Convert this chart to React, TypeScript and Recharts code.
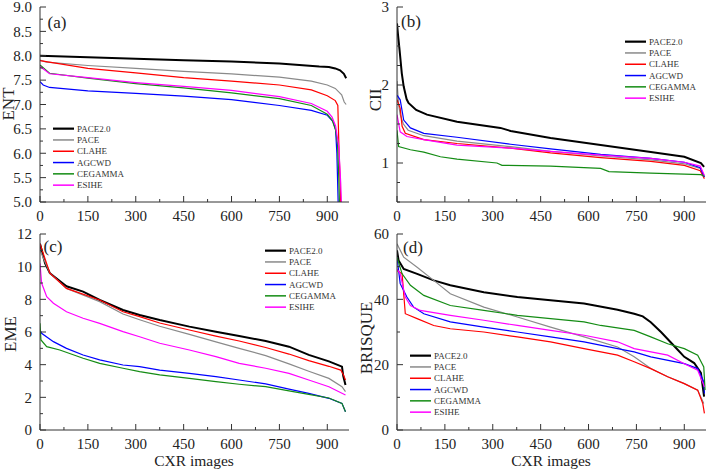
import React from 'react';
import { LineChart, Line, XAxis, YAxis, Legend } from 'recharts';

type Pt = [number, number];

const FONT = "'Liberation Serif', 'Times New Roman', serif";

const methods = ['PACE2.0', 'PACE', 'CLAHE', 'AGCWD', 'CEGAMMA', 'ESIHE'];
const methodColors = ['#000000', '#8a8a8a', '#ff0000', '#0000ff', '#148c14', '#ff00ff'];
const methodWidths = [2, 1.2, 1.2, 1.2, 1.2, 1.2];

const xMajorTicks = [0, 150, 300, 450, 600, 750, 900];
const xAllTicks = [0, 75, 150, 225, 300, 375, 450, 525, 600, 675, 750, 825, 900];
const xDomain: [number, number] = [0, 968];

// (a) ENT  -- [image index, value]
const entPace2: Pt[] = [[0, 8.0], [150, 7.97], [300, 7.94], [450, 7.91], [600, 7.88], [750, 7.84], [875, 7.78], [905, 7.77], [925, 7.74], [940, 7.7], [952, 7.63], [959, 7.54]];
const entPace: Pt[] = [[0, 7.91], [20, 7.87], [150, 7.8], [300, 7.74], [450, 7.68], [600, 7.63], [750, 7.56], [850, 7.48], [900, 7.4], [925, 7.33], [945, 7.2], [953, 7.05], [959, 7.0]];
const entClahe: Pt[] = [[0, 7.9], [150, 7.74], [300, 7.65], [450, 7.55], [600, 7.48], [750, 7.4], [850, 7.3], [900, 7.18], [925, 7.08], [933, 6.98], [937, 6.0], [940, 5.5], [944, 4.5]];
const entAgcwd: Pt[] = [[0, 7.47], [10, 7.4], [30, 7.35], [150, 7.28], [300, 7.23], [450, 7.17], [600, 7.1], [750, 6.98], [850, 6.88], [900, 6.78], [918, 6.65], [926, 6.48], [930, 6.0], [936, 4.5]];
const entCegamma: Pt[] = [[0, 7.81], [30, 7.64], [150, 7.54], [300, 7.43], [450, 7.34], [600, 7.24], [750, 7.12], [850, 6.98], [900, 6.8], [915, 6.68], [926, 6.48], [932, 6.2], [936, 5.5], [940, 4.5]];
const entEsihe: Pt[] = [[0, 7.78], [30, 7.63], [150, 7.55], [300, 7.45], [450, 7.37], [600, 7.29], [750, 7.16], [850, 7.02], [900, 6.86], [915, 6.74], [926, 6.56], [936, 6.13], [942, 5.4], [947, 4.5]];
const entTicks = [5, 5.25, 5.5, 5.75, 6, 6.25, 6.5, 6.75, 7, 7.25, 7.5, 7.75, 8, 8.25, 8.5, 8.75, 9];
const entLabels = [5, 5.5, 6, 6.5, 7, 7.5, 8, 8.5, 9];

// (b) CII
const ciiPace2: Pt[] = [[0, 2.79], [3, 2.65], [8, 2.45], [15, 2.15], [21, 1.98], [30, 1.82], [36, 1.77], [60, 1.68], [94, 1.62], [188, 1.53], [324, 1.45], [356, 1.41], [481, 1.32], [638, 1.23], [795, 1.14], [900, 1.08], [952, 1.0], [962, 0.95]];
const ciiPace: Pt[] = [[0, 2.05], [5, 1.75], [10, 1.62], [20, 1.5], [35, 1.42], [84, 1.35], [188, 1.28], [356, 1.21], [481, 1.15], [638, 1.09], [795, 1.04], [900, 0.99], [950, 0.93], [963, 0.82]];
const ciiClahe: Pt[] = [[0, 1.81], [10, 1.7], [16, 1.47], [26, 1.38], [84, 1.3], [188, 1.25], [356, 1.19], [481, 1.13], [638, 1.07], [795, 1.02], [900, 0.97], [950, 0.9], [963, 0.8]];
const ciiAgcwd: Pt[] = [[0, 1.87], [10, 1.81], [21, 1.55], [42, 1.45], [84, 1.38], [188, 1.33], [356, 1.24], [481, 1.18], [638, 1.11], [795, 1.06], [900, 1.01], [950, 0.94], [963, 0.82]];
const ciiCegamma: Pt[] = [[0, 1.42], [5, 1.21], [42, 1.17], [84, 1.14], [136, 1.08], [188, 1.05], [313, 1.0], [329, 0.97], [481, 0.96], [638, 0.93], [664, 0.89], [795, 0.87], [952, 0.85], [963, 0.83]];
const ciiEsihe: Pt[] = [[0, 1.62], [10, 1.4], [31, 1.34], [84, 1.3], [188, 1.23], [356, 1.19], [481, 1.15], [638, 1.1], [795, 1.06], [900, 1.01], [950, 0.96], [963, 0.84]];
const ciiTicks = [0.5, 0.75, 1, 1.25, 1.5, 1.75, 2, 2.25, 2.5, 2.75, 3];
const ciiLabels = [1, 2, 3];

// (c) EME
const emePace2: Pt[] = [[0, 11.4], [16, 10.2], [31, 9.6], [83, 8.8], [135, 8.47], [187, 7.96], [260, 7.35], [312, 7.04], [375, 6.73], [468, 6.33], [551, 6.02], [624, 5.75], [707, 5.45], [780, 5.1], [842, 4.6], [905, 4.2], [946, 3.88], [950, 3.3], [957, 2.76]];
const emePace: Pt[] = [[0, 11.0], [31, 9.6], [83, 8.67], [187, 7.86], [260, 7.1], [312, 6.75], [375, 6.35], [468, 5.85], [551, 5.4], [624, 5.0], [707, 4.55], [780, 4.05], [842, 3.6], [905, 3.16], [946, 2.65], [957, 2.35]];
const emeClahe: Pt[] = [[0, 11.4], [31, 9.6], [83, 8.67], [187, 7.96], [260, 7.24], [312, 6.94], [375, 6.55], [468, 6.12], [551, 5.75], [624, 5.45], [707, 5.05], [780, 4.65], [842, 4.25], [905, 3.9], [942, 3.67], [950, 3.4], [957, 3.06]];
const emeAgcwd: Pt[] = [[0, 6.12], [5, 5.92], [42, 5.41], [83, 5.0], [135, 4.59], [187, 4.29], [260, 3.98], [312, 3.88], [375, 3.67], [468, 3.47], [551, 3.27], [624, 3.06], [707, 2.82], [780, 2.5], [842, 2.24], [905, 1.94], [946, 1.63], [957, 1.12]];
const emeCegamma: Pt[] = [[0, 6.53], [3, 5.51], [21, 5.1], [62, 4.9], [135, 4.39], [187, 4.08], [260, 3.78], [312, 3.57], [375, 3.37], [468, 3.16], [551, 2.96], [624, 2.8], [707, 2.65], [780, 2.4], [842, 2.18], [905, 1.96], [946, 1.63], [957, 1.12]];
const emeEsihe: Pt[] = [[0, 10.2], [5, 9.0], [21, 8.16], [42, 7.76], [83, 7.24], [135, 6.84], [187, 6.53], [260, 6.02], [312, 5.71], [375, 5.31], [468, 4.9], [551, 4.49], [624, 4.08], [707, 3.78], [780, 3.47], [842, 3.06], [905, 2.65], [957, 2.14]];
const emeTicks = [0, 1, 2, 3, 4, 5, 6, 7, 8, 9, 10, 11, 12];
const emeLabels = [0, 2, 4, 6, 8, 10, 12];

// (d) BRISQUE
const brqPace2: Pt[] = [[0, 55], [5, 51.9], [21, 49.3], [63, 47.8], [115, 45.8], [167, 44.3], [272, 42.2], [377, 40.7], [481, 39.7], [586, 38.7], [691, 36.8], [743, 35.6], [770, 34.8], [795, 33.0], [827, 30.0], [858, 26.8], [880, 24.5], [900, 22.4], [931, 20.5], [952, 17.5], [962, 10.2]];
const brqPace: Pt[] = [[0, 57], [21, 52.9], [63, 49.8], [115, 45.8], [167, 41.7], [272, 37.6], [377, 34.6], [481, 31.5], [586, 28.5], [691, 25.4], [743, 22.4], [795, 18.8], [848, 16.3], [900, 14.2], [942, 12.2], [961, 8.1]];
const brqClahe: Pt[] = [[0, 48.8], [16, 47.8], [26, 35.6], [63, 34.1], [115, 32.0], [167, 31.0], [272, 30.0], [377, 28.5], [481, 27.0], [586, 24.9], [691, 22.9], [743, 20.9], [795, 18.8], [848, 16.3], [900, 14.2], [942, 12.2], [958, 8.1], [963, 5.1]];
const brqAgcwd: Pt[] = [[0, 52.9], [10, 44.8], [31, 40.7], [52, 37.6], [84, 35.6], [167, 33.1], [272, 31.5], [377, 30.0], [481, 28.5], [586, 27.0], [691, 24.9], [743, 23.9], [795, 22.4], [900, 20.3], [942, 18.8], [961, 14.8], [963, 11.2]];
const brqCegamma: Pt[] = [[0, 52.9], [16, 47.8], [42, 44.3], [84, 41.2], [167, 38.1], [272, 36.6], [377, 35.1], [481, 34.1], [586, 33.1], [638, 32.0], [743, 30.5], [795, 28.5], [848, 26.4], [900, 24.9], [942, 22.9], [961, 19.3], [965, 12.2]];
const brqEsihe: Pt[] = [[0, 49.3], [10, 47.8], [26, 40.7], [42, 38.1], [73, 36.6], [167, 35.1], [272, 33.6], [377, 32.0], [481, 30.5], [586, 29.0], [691, 27.0], [743, 24.9], [848, 22.9], [900, 20.3], [942, 18.3], [963, 13.2]];
const brqTicks = [0, 10, 20, 30, 40, 50, 60];
const brqLabels = [0, 20, 40, 60];

type Side = 'bottom' | 'top' | 'left' | 'right';

const isIn = (list: number[], v: number) => list.some((m) => Math.abs(m - v) < 1e-9);

// ticks point into the plot; only the labelled ones are long and carry text
const makeTick = (side: Side, major: number[], fmt?: (v: number) => string) => (props: any) => {
  const { x, y, payload } = props;
  const v = payload.value as number;
  const big = isIn(major, v);
  const len = big ? 6 : 3;
  const stroke = '#333';
  if (side === 'bottom') {
    return (
      <g>
        <line x1={x} y1={y} x2={x} y2={y - len} stroke={stroke} strokeWidth={1} />
        {big && fmt && (
          <text x={x} y={y + 19} textAnchor="middle" fontSize={15} fontFamily={FONT} fill="#222">{fmt(v)}</text>
        )}
      </g>
    );
  }
  if (side === 'top') {
    return <line x1={x} y1={y} x2={x} y2={y + len} stroke={stroke} strokeWidth={1} />;
  }
  if (side === 'left') {
    return (
      <g>
        <line x1={x} y1={y} x2={x + len} y2={y} stroke={stroke} strokeWidth={1} />
        {big && fmt && (
          <text x={x - 8} y={y} dy="0.35em" textAnchor="end" fontSize={15} fontFamily={FONT} fill="#222">{fmt(v)}</text>
        )}
      </g>
    );
  }
  return <line x1={x} y1={y} x2={x - len} y2={y} stroke={stroke} strokeWidth={1} />;
};

const ROW = 11.3;

const renderLegend = (props: any) => {
  const payload = [...(props.payload || [])].sort(
    (a: any, b: any) => methods.indexOf(a.value) - methods.indexOf(b.value)
  );
  return (
    <svg width={80} height={ROW * payload.length + 2} style={{ display: 'block', overflow: 'visible' }}>
      {payload.map((entry: any, i: number) => {
        const cy = ROW / 2 + i * ROW + 1;
        return (
          <g key={entry.value}>
            <line
              x1={0}
              x2={21}
              y1={cy}
              y2={cy}
              stroke={entry.color}
              strokeWidth={entry.value === 'PACE2.0' ? 2.2 : 1.5}
            />
            <text x={24} y={cy} dy="0.35em" fontSize={9} fontFamily={FONT} fill="#333">
              {entry.value}
            </text>
          </g>
        );
      })}
    </svg>
  );
};

interface PanelProps {
  left: number;
  top: number;
  width: number;
  height: number;
  margin: { top: number; right: number; bottom: number; left: number };
  series: Pt[][];
  yDomain: [number, number];
  yTicks: number[];
  yLabels: number[];
  yFmt: (v: number) => string;
  legendLeft: number;
  legendTop: number;
}

function Panel({ left, top, width, height, margin, series, yDomain, yTicks, yLabels, yFmt, legendLeft, legendTop }: PanelProps) {
  return (
    <div style={{ position: 'absolute', left, top, width, height }}>
      <LineChart width={width} height={height} margin={margin}>
        <XAxis
          dataKey="x"
          type="number"
          domain={xDomain}
          allowDataOverflow
          ticks={xAllTicks}
          interval={0}
          height={27}
          tickSize={0}
          tickMargin={0}
          tickLine={false}
          axisLine={{ stroke: '#333' }}
          tick={makeTick('bottom', xMajorTicks, (v) => String(v))}
        />
        <XAxis
          xAxisId="top"
          orientation="top"
          dataKey="x"
          type="number"
          domain={xDomain}
          allowDataOverflow
          ticks={xAllTicks}
          interval={0}
          height={0}
          tickSize={0}
          tickMargin={0}
          tickLine={false}
          axisLine={{ stroke: '#333' }}
          tick={makeTick('top', xMajorTicks)}
        />
        <YAxis
          type="number"
          domain={yDomain}
          allowDataOverflow
          ticks={yTicks}
          interval={0}
          width={40}
          tickSize={0}
          tickMargin={0}
          tickLine={false}
          axisLine={{ stroke: '#333' }}
          tick={makeTick('left', yLabels, yFmt)}
        />
        <YAxis
          yAxisId="right"
          orientation="right"
          type="number"
          domain={yDomain}
          allowDataOverflow
          ticks={yTicks}
          interval={0}
          width={0}
          tickSize={0}
          tickMargin={0}
          tickLine={false}
          axisLine={{ stroke: '#333' }}
          tick={makeTick('right', yLabels)}
        />
        <Legend
          layout="vertical"
          align="center"
          verticalAlign="middle"
          content={renderLegend}
          wrapperStyle={{ left: legendLeft, top: legendTop, width: 'auto', height: 'auto' }}
        />
        {series.map((pts, i) => (
          <Line
            key={methods[i]}
            name={methods[i]}
            data={pts.map(([x, y]) => ({ x, y }))}
            dataKey="y"
            type="linear"
            stroke={methodColors[i]}
            strokeWidth={methodWidths[i]}
            dot={false}
            activeDot={false}
            isAnimationActive={false}
          />
        ))}
      </LineChart>
    </div>
  );
}

const textStyle: React.CSSProperties = {
  position: 'absolute',
  fontFamily: FONT,
  color: '#222',
  lineHeight: 0.7,
  whiteSpace: 'nowrap',
};

function Caption({ x, y, size, text, rotate }: { x: number; y: number; size: number; text: string; rotate?: boolean }) {
  return (
    <div
      style={{
        ...textStyle,
        left: x,
        top: y,
        fontSize: size,
        transform: `translate(-50%, -50%)${rotate ? ' rotate(-90deg)' : ''}`,
      }}
    >
      {text}
    </div>
  );
}

export default function App() {
  const fmt1 = (v: number) => v.toFixed(1);
  const fmt0 = (v: number) => String(v);
  return (
    <div style={{ position: 'absolute', left: 0, top: 0, width: 708, height: 472, background: '#fff', overflow: 'hidden' }}>
      <Panel
        left={0}
        top={0}
        width={354}
        height={236}
        margin={{ top: 7, right: 5, bottom: 7, left: 0 }}
        series={[entPace2, entPace, entClahe, entAgcwd, entCegamma, entEsihe]}
        yDomain={[5, 9]}
        yTicks={entTicks}
        yLabels={entLabels}
        yFmt={fmt1}
        legendLeft={53}
        legendTop={122}
      />
      <Panel
        left={357}
        top={0}
        width={351}
        height={236}
        margin={{ top: 7, right: 2, bottom: 7, left: 0 }}
        series={[ciiPace2, ciiPace, ciiClahe, ciiAgcwd, ciiCegamma, ciiEsihe]}
        yDomain={[0.5, 3]}
        yTicks={ciiTicks}
        yLabels={ciiLabels}
        yFmt={fmt0}
        legendLeft={268}
        legendTop={35}
      />
      <Panel
        left={0}
        top={227}
        width={354}
        height={245}
        margin={{ top: 7, right: 5, bottom: 15, left: 0 }}
        series={[emePace2, emePace, emeClahe, emeAgcwd, emeCegamma, emeEsihe]}
        yDomain={[0, 12]}
        yTicks={emeTicks}
        yLabels={emeLabels}
        yFmt={fmt0}
        legendLeft={265}
        legendTop={17}
      />
      <Panel
        left={357}
        top={227}
        width={351}
        height={245}
        margin={{ top: 7, right: 2, bottom: 15, left: 0 }}
        series={[brqPace2, brqPace, brqClahe, brqAgcwd, brqCegamma, brqEsihe]}
        yDomain={[0, 60]}
        yTicks={brqTicks}
        yLabels={brqLabels}
        yFmt={fmt0}
        legendLeft={53}
        legendTop={122}
      />

      <Caption x={57} y={23} size={17} text="(a)" />
      <Caption x={411} y={22} size={17} text="(b)" />
      <Caption x={53} y={247} size={17} text="(c)" />
      <Caption x={413} y={248} size={17} text="(d)" />

      <Caption x={9} y={104} size={17} text="ENT" rotate />
      <Caption x={376} y={100} size={17} text="CII" rotate />
      <Caption x={11} y={334} size={17} text="EME" rotate />
      <Caption x={367} y={338} size={17} text="BRISQUE" rotate />

      <Caption x={194} y={461} size={15.5} text="CXR images" />
      <Caption x={551} y={461} size={15.5} text="CXR images" />
    </div>
  );
}
